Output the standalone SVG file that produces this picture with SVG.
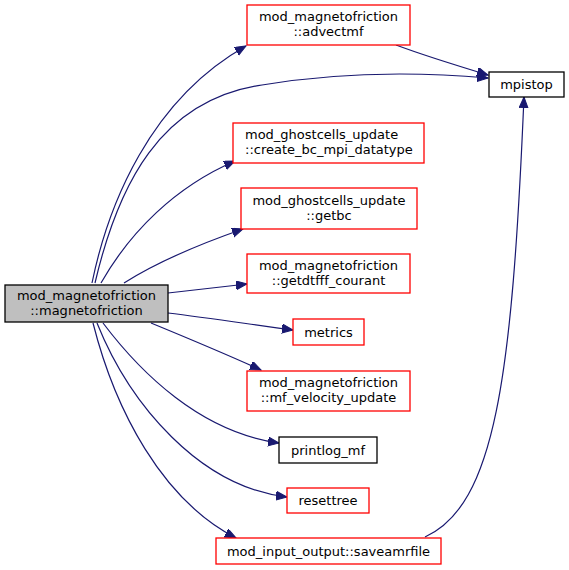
<svg xmlns="http://www.w3.org/2000/svg" width="569" height="570" viewBox="0 0 569 570">
<defs>
<marker id="arr" markerUnits="userSpaceOnUse" markerWidth="12" markerHeight="10" refX="11" refY="4.5" orient="auto">
<path d="M0,0 L11,4.5 L0,9 Z" fill="#191970" stroke="#191970" stroke-width="1"/>
</marker>
<style>
.edge{fill:none;stroke:#191970;stroke-width:1.2}
.red{fill:#ffffff;stroke:#ff0000;stroke-width:1.3}
.blk{fill:#ffffff;stroke:#000000;stroke-width:1.3}
.main{fill:#bfbfbf;stroke:#000000;stroke-width:1.3}
text{font-family:"DejaVu Sans",sans-serif;font-size:13px;fill:#000000}
.c{text-anchor:middle}
</style>
</defs>
<rect width="569" height="570" fill="#ffffff"/>
<g id="edges">
<path class="edge" marker-end="url(#arr)" d="M92,283 C108,205 150,100 246,46"/>
<path class="edge" marker-end="url(#arr)" d="M95,283 C118,185 160,100 262,85 C340,72 420,72 488,78"/>
<path class="edge" marker-end="url(#arr)" d="M396,45 C420,54 455,65 488,75"/>
<path class="edge" marker-end="url(#arr)" d="M101,283 C130,232 175,187 235,161"/>
<path class="edge" marker-end="url(#arr)" d="M124,283 C157,262 200,244 243,229"/>
<path class="edge" marker-end="url(#arr)" d="M168,293 C195,290 222,287 247,284"/>
<path class="edge" marker-end="url(#arr)" d="M168,313 C210,318 255,325 293,330"/>
<path class="edge" marker-end="url(#arr)" d="M151,323 C185,337 228,355 261,370"/>
<path class="edge" marker-end="url(#arr)" d="M103,323 C140,372 200,432 279,443"/>
<path class="edge" marker-end="url(#arr)" d="M97,323 C130,405 200,487 287,497"/>
<path class="edge" marker-end="url(#arr)" d="M93,323 C115,410 162,500 236,538"/>
<path class="edge" marker-end="url(#arr)" d="M425,537 C495,505 512,380 524,97"/>
</g>
<g id="n_main"><rect class="main" x="5" y="285" width="163" height="37"/><text class="c" x="86.5" y="299.5">mod_magnetofriction</text><text class="c" x="86.5" y="314.5">::magnetofriction</text></g>
<g id="n_advectmf"><rect class="red" x="247" y="5" width="163" height="40"/><text class="c" x="328.5" y="21">mod_magnetofriction</text><text class="c" x="328.5" y="36">::advectmf</text></g>
<g id="n_mpistop"><rect class="blk" x="489" y="72" width="75" height="25"/><text class="c" x="526.5" y="89">mpistop</text></g>
<g id="n_create"><rect class="red" x="233" y="123" width="191" height="40"/><text x="245" y="139">mod_ghostcells_update</text><text x="245" y="154">::create_bc_mpi_datatype</text></g>
<g id="n_getbc"><rect class="red" x="241" y="188" width="176" height="41"/><text class="c" x="329" y="204.5">mod_ghostcells_update</text><text class="c" x="329" y="219.5">::getbc</text></g>
<g id="n_getdtfff"><rect class="red" x="247" y="254" width="163" height="39"/><text class="c" x="328.5" y="270">mod_magnetofriction</text><text class="c" x="328.5" y="285">::getdtfff_courant</text></g>
<g id="n_metrics"><rect class="red" x="293" y="319" width="71" height="26"/><text class="c" x="328.5" y="336.5">metrics</text></g>
<g id="n_mfvel"><rect class="red" x="247" y="371" width="163" height="40"/><text class="c" x="328.5" y="387">mod_magnetofriction</text><text class="c" x="328.5" y="402">::mf_velocity_update</text></g>
<g id="n_printlog"><rect class="blk" x="279" y="437" width="98" height="26"/><text class="c" x="328" y="454.5">printlog_mf</text></g>
<g id="n_resettree"><rect class="red" x="287" y="488" width="82" height="25"/><text class="c" x="328" y="505">resettree</text></g>
<g id="n_saveamr"><rect class="red" x="216" y="538" width="225" height="26"/><text class="c" x="328.5" y="555.5">mod_input_output::saveamrfile</text></g>
</svg>
